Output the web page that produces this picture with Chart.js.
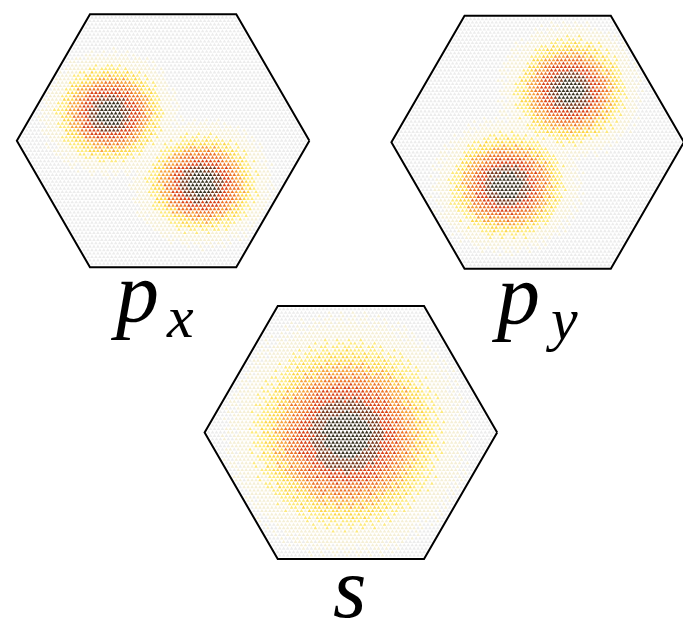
<!DOCTYPE html>
<html>
<head>
<meta charset="utf-8">
<script src="https://cdn.jsdelivr.net/npm/chart.js@4"></script>
<style>
  html, body { margin: 0; padding: 0; background: #ffffff; }
</style>
</head>
<body>
<canvas id="c" width="683" height="621"></canvas>
<script>
// ---------------- DATA ----------------
const panelNames = ["p_x", "p_y", "s"];
const orbitalMain = ["p", "p", "s"];
const orbitalSub = ["x", "y", ""];
// lobe centres and half-widths, in units of the hexagon circumradius (y up)
const lobeX  = [[-0.365, 0.264], [0.223, -0.209], [-0.027]];
const lobeY  = [[0.186, -0.294], [0.351, -0.297], [-0.020]];
const lobeRx = [[0.335, 0.345], [0.345, 0.36], [0.585]];
const lobeRy = [[0.305, 0.31], [0.33, 0.33], [0.585]];
// density bands (normalised lobe distance) and their colours
const bandEdges  = [0.27, 0.42, 0.57, 0.70, 0.82, 0.94, 1.08, 1.38];
const bandColors = ["#3a3322", "#7a3b1f", "#d9471a", "#ec762a", "#f6a33e", "#fcd64a", "#fde97c", "#f5efd6"];
const zeroColor = "#ececec";
const sublatticeFactor = [1.0, 1.07, 0.94];

// ---------------- LAYOUT ----------------
const layout = {
  centers: [[161, 138.5], [540, 140], [351, 434]],
  R: 148,
  spacing: 4,
  labels: [
    { mainX: 116, mainY: 321, subX: 167, subY: 337 },
    { mainX: 497, mainY: 323, subX: 551, subY: 339 },
    { mainX: 333, mainY: 617, subX: 0, subY: 0 }
  ],
  mainFont: 'italic 86px "Liberation Serif"',
  subFont: 'italic 60px "Liberation Serif"'
};

function bandColor(d) {
  for (let k = 0; k < bandEdges.length; k++) if (d < bandEdges[k]) return bandColors[k];
  return zeroColor;
}

const S3 = Math.sqrt(3);
const datasets = [];
panelNames.forEach((name, p) => {
  const [cx, cy] = layout.centers[p];
  const R = layout.R, a = layout.spacing, h = a * S3 / 2;
  const pts = [], cols = [];
  const nRows = Math.ceil(R / h) + 1, nCols = Math.ceil(R / a) + 2;
  for (let j = -nRows; j <= nRows; j++) {
    const y = cy + j * h;
    const dy = Math.abs(y - cy);
    if (dy > R * S3 / 2 - 2.2) continue;
    for (let i = -nCols; i <= nCols; i++) {
      const x = cx + (i + ((j & 1) ? 0.5 : 0)) * a;
      const dx = Math.abs(x - cx);
      if (dx > R - dy / S3 - 2.5) continue;
      const u = (x - cx) / R, v = -(y - cy) / R;
      let d = Infinity;
      for (let L = 0; L < lobeX[p].length; L++) {
        const ex = (u - lobeX[p][L]) / lobeRx[p][L];
        const ey = (v - lobeY[p][L]) / lobeRy[p][L];
        d = Math.min(d, Math.sqrt(ex * ex + ey * ey));
      }
      const sub = (((i - j) % 3) + 3) % 3;
      d *= sublatticeFactor[sub];
      pts.push({ x, y });
      cols.push(bandColor(d));
    }
  }
  datasets.push({
    label: name + " sites",
    data: pts,
    pointBackgroundColor: cols,
    pointBorderWidth: 0,
    pointRadius: 2.1,
    pointStyle: 'triangle',
    showLine: false,
    order: 2
  });
  const verts = [];
  for (let k = 0; k <= 6; k++) {
    const ang = Math.PI / 3 * k;
    verts.push({ x: cx + R * Math.cos(ang), y: cy + R * Math.sin(ang) });
  }
  datasets.push({
    label: name + " border",
    data: verts,
    showLine: true,
    borderColor: '#000000',
    borderWidth: 2,
    pointRadius: 0,
    fill: false,
    tension: 0,
    order: 1
  });
});

const labelPlugin = {
  id: 'orbitalLabels',
  afterDraw(chart) {
    const ctx = chart.ctx;
    ctx.save();
    ctx.fillStyle = '#000000';
    ctx.textAlign = 'left';
    ctx.textBaseline = 'alphabetic';
    panelNames.forEach((n, p) => {
      const L = layout.labels[p];
      ctx.font = layout.mainFont;
      ctx.fillText(orbitalMain[p], L.mainX, L.mainY);
      if (orbitalSub[p]) {
        ctx.font = layout.subFont;
        ctx.fillText(orbitalSub[p], L.subX, L.subY);
      }
    });
    ctx.restore();
  }
};

new Chart(document.getElementById('c'), {
  type: 'scatter',
  data: { datasets },
  options: {
    responsive: false,
    devicePixelRatio: 1,
    animation: false,
    clip: false,
    layout: { padding: 0 },
    plugins: { legend: { display: false }, tooltip: { enabled: false }, title: { display: false } },
    scales: {
      x: { type: 'linear', min: 0, max: 683, display: false },
      y: { type: 'linear', min: 0, max: 621, reverse: true, display: false }
    }
  },
  plugins: [labelPlugin]
});
</script>
</body>
</html>
